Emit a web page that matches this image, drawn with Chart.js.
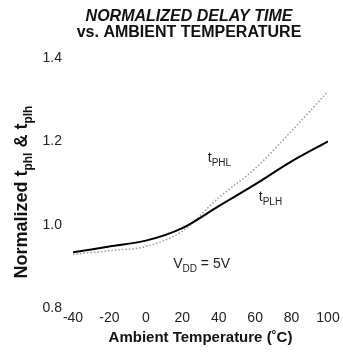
<!DOCTYPE html>
<html>
<head>
<meta charset="utf-8">
<script src="https://cdn.jsdelivr.net/npm/chart.js@4/dist/chart.umd.min.js"></script>
<style>
  html, body { margin: 0; padding: 0; background: #fff; }
  #wrap { width: 343px; height: 354px; position: relative; }
</style>
</head>
<body>
<div id="wrap"><canvas id="delayChart"></canvas></div>
<script>
// data
const temperatures = [-40, -20, 0, 20, 40, 60, 80, 100];
const tplhValues = [0.934, 0.948, 0.962, 0.992, 1.045, 1.097, 1.152, 1.200];
const tphlValues = [0.929, 0.938, 0.948, 0.985, 1.065, 1.135, 1.225, 1.320];
const xTickValues = [-40, -20, 0, 20, 40, 60, 80, 100];
const yTickValues = [0.8, 1.0, 1.2, 1.4];

const FONT = '"Liberation Sans", Arial, Helvetica, sans-serif';

document.addEventListener('DOMContentLoaded', function () {
    const ctx = document.getElementById('delayChart').getContext('2d');

    function toPoints(values) {
        return temperatures.map((t, i) => ({ x: t, y: values[i] }));
    }

    // draw a run of text pieces, some of them as subscripts
    function drawRun(c, parts, x, y, size, subSize, weight) {
        let cx = x;
        parts.forEach(p => {
            c.font = weight + ' ' + (p.sub ? subSize : size) + 'px ' + FONT;
            c.fillText(p.text, cx, p.sub ? y + Math.round(size * 0.25) : y);
            cx += c.measureText(p.text).width;
        });
        return cx - x;
    }

    function runWidth(c, parts, size, subSize, weight) {
        let w = 0;
        parts.forEach(p => {
            c.font = weight + ' ' + (p.sub ? subSize : size) + 'px ' + FONT;
            w += c.measureText(p.text).width;
        });
        return w;
    }

    const textPlugin = {
        id: 'subscriptText',
        afterDraw(chart) {
            const c = chart.ctx;
            const xs = chart.scales.x;
            const ys = chart.scales.y;
            c.save();
            c.fillStyle = '#111';
            c.textBaseline = 'alphabetic';
            c.textAlign = 'left';

            // rotated y axis title
            const yTitle = [
                { text: 'Normalized t' }, { text: 'phl', sub: true },
                { text: ' & t' }, { text: 'plh', sub: true }
            ];
            const midY = (ys.top + ys.bottom) / 2 + 9;
            c.translate(27, midY);
            c.rotate(-Math.PI / 2);
            const w = runWidth(c, yTitle, 18, 12, 'bold');
            drawRun(c, yTitle, -w / 2, 0, 18, 12, 'bold');
            c.restore();

            // curve labels
            c.save();
            c.fillStyle = '#222';
            const labels = [
                { parts: [{ text: 't' }, { text: 'PHL', sub: true }], t: 34, v: 1.15 },
                { parts: [{ text: 't' }, { text: 'PLH', sub: true }], t: 62, v: 1.057 },
                { parts: [{ text: 'V' }, { text: 'DD', sub: true }, { text: ' = 5V' }], t: 15, v: 0.897 }
            ];
            labels.forEach(l => {
                drawRun(c, l.parts, xs.getPixelForValue(l.t), ys.getPixelForValue(l.v), 14, 10, 'normal');
            });
            c.restore();
        }
    };

    new Chart(ctx, {
        type: 'line',
        data: {
            datasets: [{
                label: 'tPLH',
                data: toPoints(tplhValues),
                borderColor: '#000',
                borderWidth: 2,
                pointRadius: 0,
                cubicInterpolationMode: 'monotone'
            }, {
                label: 'tPHL',
                data: toPoints(tphlValues),
                borderColor: '#9a9a9a',
                borderWidth: 1.5,
                borderDash: [1.5, 2],
                pointRadius: 0,
                cubicInterpolationMode: 'monotone'
            }]
        },
        options: {
            responsive: true,
            maintainAspectRatio: false,
            animation: false,
            layout: { padding: { left: 38, right: 3, top: 0, bottom: 7 } },
            plugins: {
                legend: { display: false },
                tooltip: { enabled: false },
                title: {
                    display: true,
                    text: 'NORMALIZED DELAY TIME',
                    color: '#111',
                    font: { family: FONT, size: 16, weight: 'bold', style: 'italic', lineHeight: 1 },
                    padding: { top: 9, bottom: 0 }
                },
                subtitle: {
                    display: true,
                    text: 'vs. AMBIENT TEMPERATURE',
                    color: '#111',
                    font: { family: FONT, size: 16, weight: 'bold', lineHeight: 1 },
                    padding: { top: 0, bottom: 17 }
                }
            },
            scales: {
                x: {
                    type: 'linear',
                    min: -40,
                    max: 100,
                    grid: { display: false, drawTicks: false },
                    border: { display: false },
                    afterBuildTicks: scale => { scale.ticks = xTickValues.map(v => ({ value: v })); },
                    afterFit: scale => { scale.paddingRight = 15; },
                    ticks: {
                        color: '#222',
                        padding: 2,
                        maxRotation: 0,
                        font: { family: FONT, size: 14 }
                    },
                    title: {
                        display: true,
                        text: 'Ambient Temperature (˚C)',
                        color: '#111',
                        font: { family: FONT, size: 15, weight: 'bold', lineHeight: 1.2 },
                        padding: { top: 0, bottom: 0 }
                    }
                },
                y: {
                    min: 0.8,
                    max: 1.4,
                    grid: { display: false, drawTicks: false },
                    border: { display: false },
                    afterBuildTicks: scale => { scale.ticks = yTickValues.map(v => ({ value: v })); },
                    afterFit: scale => { scale.width = 35; },
                    ticks: {
                        color: '#222',
                        padding: 11,
                        font: { family: FONT, size: 14 },
                        callback: value => value.toFixed(1)
                    }
                }
            }
        },
        plugins: [textPlugin]
    });
});
</script>
</body>
</html>
